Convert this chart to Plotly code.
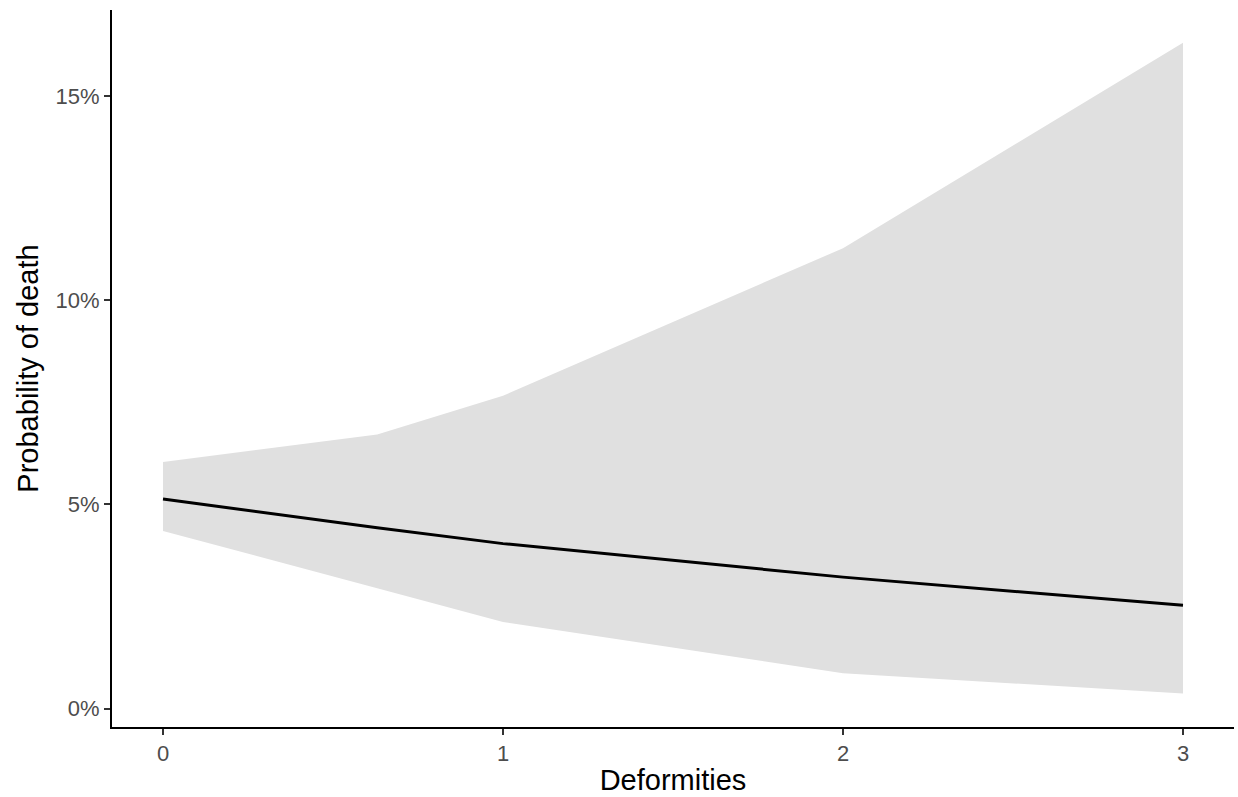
import plotly.graph_objects as go

deformities = [0, 0.63, 1, 2, 3]
prob_fit = [5.13, 4.43, 4.04, 3.22, 2.53]
prob_upper = [6.04, 6.71, 7.66, 11.27, 16.30]
prob_lower = [4.35, 2.95, 2.12, 0.87, 0.37]

y_ticks = [0, 5, 10, 15]
y_tick_labels = ["0%", "5%", "10%", "15%"]
x_ticks = [0, 1, 2, 3]

fig = go.Figure()
fig.add_trace(go.Scatter(
    x=deformities + deformities[::-1],
    y=prob_upper + prob_lower[::-1],
    fill="toself", fillcolor="#E0E0E0", line=dict(width=0),
    mode="lines", hoverinfo="skip", showlegend=False))
fig.add_trace(go.Scatter(
    x=deformities, y=prob_fit, mode="lines",
    line=dict(color="black", width=3), showlegend=False))

axis_common = dict(
    showgrid=False, zeroline=False, showline=True, linecolor="black", linewidth=2,
    ticks="outside", ticklen=6, tickwidth=2, tickcolor="#333333",
    tickfont=dict(family="Liberation Sans, Arial", size=22, color="#4D4D4D"),
    title_font=dict(family="Liberation Sans, Arial", size=29, color="black"),
    automargin=False,
)
fig.update_xaxes(range=[-0.15, 3.15], tickvals=x_ticks, ticktext=[str(v) for v in x_ticks],
                 title_text="Deformities", title_standoff=4, **axis_common)
fig.update_yaxes(range=[-0.448, 17.10], tickvals=y_ticks, ticktext=y_tick_labels,
                 title_text="Probability of death", title_standoff=8, **axis_common)
fig.update_layout(
    width=1238, height=797, paper_bgcolor="white", plot_bgcolor="white",
    margin=dict(l=112, r=4, t=10, b=70),
    font=dict(family="Liberation Sans, Arial"),
)
fig.write_html("out.html", config={"displayModeBar": False},
               post_script="document.body.style.margin='0';document.body.style.padding='0';")
